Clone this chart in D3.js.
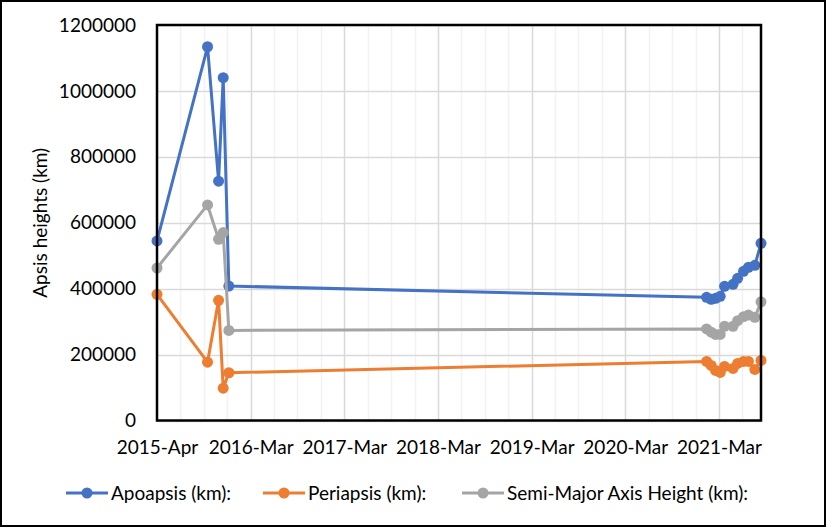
<!DOCTYPE html>
<html><head><meta charset="utf-8">
<script src="https://cdn.jsdelivr.net/npm/d3@7"></script>
<style>body{margin:0;background:#fff}text{font-family:Lato,"Open Sans",sans-serif}</style>
</head><body><svg id="c" width="826" height="527"></svg>
<script>
const dates=["2015-04-01","2015-10-15","2015-11-27","2015-12-15","2016-01-06",
"2021-02-10","2021-02-28","2021-03-17","2021-04-04","2021-04-21","2021-05-24","2021-06-11","2021-07-04","2021-07-23","2021-08-17","2021-09-10"];
const apoapsis=[544700,1134000,726100,1040000,408000,373700,367600,370600,376700,407100,413200,431400,452700,464800,470900,537700];
const periapsis=[382800,177100,364600,98100,144900,179200,167100,151900,145800,164100,158000,173200,179200,179200,154900,182300];
const semiMajor=[462700,654100,549900,570200,273400,278000,268000,261000,261000,286000,286000,303000,315000,320000,313000,360000];
const yTicks=[0,200000,400000,600000,800000,1000000,1200000];
const xTickDates=["2015-04-01","2016-03-31","2017-03-31","2018-03-31","2019-03-31","2020-03-30","2021-03-30"];
const seriesNames=["Apoapsis (km):","Periapsis (km):","Semi-Major Axis Height (km):"];
const colors=["#4472C4","#ED7D31","#A5A5A5"];
const yTitle="Apsis heights (km)";

const parse=d3.utcParse("%Y-%m-%d");
const svg=d3.select("#c");
const FS=19;
const L=157,R=761,T=25,B=420.5;
svg.append("rect").attr("x",0).attr("y",0).attr("width",826).attr("height",527).attr("fill","#fff");
svg.append("rect").attr("x",1).attr("y",1).attr("width",824).attr("height",525).attr("fill","none").attr("stroke","#000").attr("stroke-width",2);

const t0=parse(dates[0]), t1=parse(dates[dates.length-1]);
const x=d3.scaleUtc().domain([t0,t1]).range([L,R]);
const y=d3.scaleLinear().domain([0,1200000]).range([B,T]);

// vertical gridlines (minor every quarter of the major 365-day unit)
const DAY=86400000;
const g=svg.append("g");
for(let k=1;;k++){
  const t=new Date(t0.getTime()+k*91.25*DAY);
  if(t>=t1) break;
  const px=Math.round(x(t))+0.5;
  g.append("line").attr("x1",px).attr("x2",px).attr("y1",T).attr("y2",B)
   .attr("stroke",k%4===0?"#D9D9D9":"#F2F2F2").attr("stroke-width",1.5);
}
yTicks.forEach(v=>{
  const py=Math.round(y(v))+0.5;
  g.append("line").attr("x1",L).attr("x2",R).attr("y1",py).attr("y2",py).attr("stroke","#D9D9D9").attr("stroke-width",1.5);
});

// axes labels
const ya=svg.append("g").attr("transform",`translate(${L},0)`)
  .call(d3.axisLeft(y).tickValues(yTicks).tickSize(0).tickPadding(21).tickFormat(d3.format("d")));
ya.select(".domain").remove();
ya.selectAll("text").attr("font-size",FS).attr("font-family","Lato").attr("fill","#000");

const xa=svg.append("g").attr("transform",`translate(0,${B})`)
  .call(d3.axisBottom(x).tickValues(xTickDates.map(parse)).tickSize(0).tickPadding(20).tickFormat(d3.utcFormat("%Y-%b")));
xa.select(".domain").remove();
xa.selectAll("text").attr("font-size",FS).attr("font-family","Lato").attr("fill","#000");

svg.append("text").attr("transform",`translate(47,${(T+B)/2}) rotate(-90)`).attr("text-anchor","middle")
  .attr("font-size",FS).attr("fill","#000").text(yTitle);

// series
const series=[apoapsis,periapsis,semiMajor];
const line=d3.line().x(d=>x(d.t)).y(d=>y(d.v));
series.forEach((vals,i)=>{
  const pts=vals.map((v,j)=>({t:parse(dates[j]),v}));
  svg.append("path").datum(pts).attr("d",line).attr("fill","none").attr("stroke",colors[i])
    .attr("stroke-width",3).attr("stroke-linejoin","round").attr("stroke-linecap","round");
  svg.append("g").selectAll("circle").data(pts).join("circle")
    .attr("cx",d=>x(d.t)).attr("cy",d=>y(d.v)).attr("r",5.5).attr("fill",colors[i]);
});

// plot border
svg.append("rect").attr("x",L).attr("y",T).attr("width",R-L).attr("height",B-T)
  .attr("fill","none").attr("stroke","#000").attr("stroke-width",2.5);

// legend
const legX=[66,263,462];
const LY=493;
seriesNames.forEach((n,i)=>{
  const lg=svg.append("g");
  lg.append("line").attr("x1",legX[i]).attr("x2",legX[i]+42).attr("y1",LY).attr("y2",LY).attr("stroke",colors[i]).attr("stroke-width",3);
  lg.append("circle").attr("cx",legX[i]+21).attr("cy",LY).attr("r",5.5).attr("fill",colors[i]);
  lg.append("text").attr("x",legX[i]+45).attr("y",LY).attr("dy","0.35em").attr("font-size",FS).attr("fill","#000").text(n);
});
</script></body></html>
